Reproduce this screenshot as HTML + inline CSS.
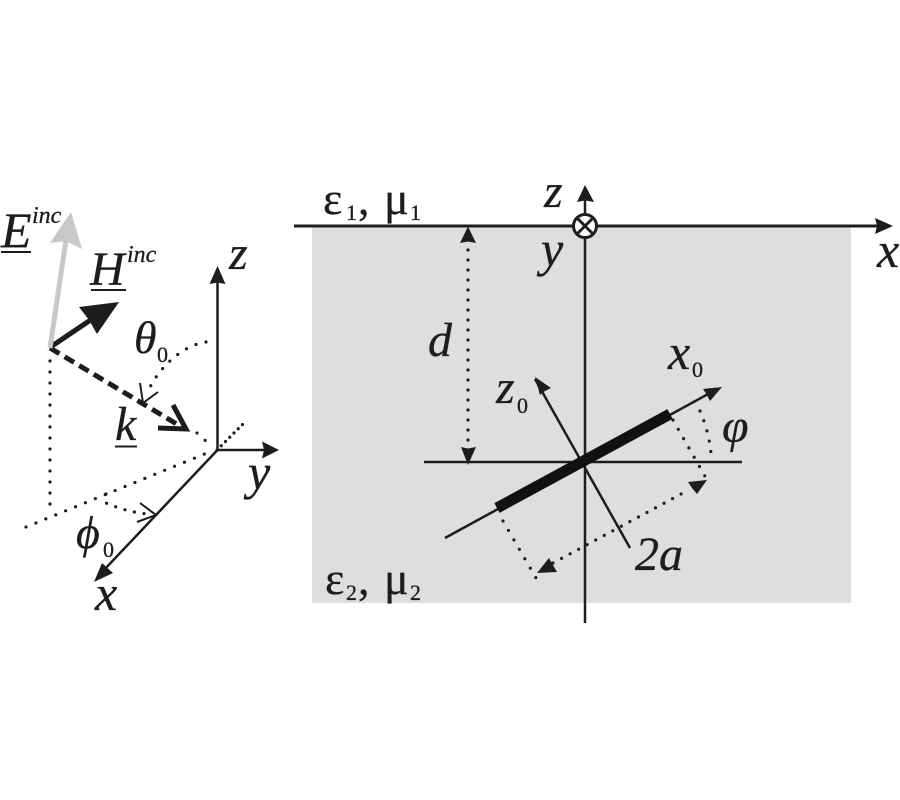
<!DOCTYPE html>
<html><head><meta charset="utf-8"><style>
html,body{margin:0;padding:0;background:#fff}
svg{display:block}
text{font-family:"Liberation Serif","DejaVu Serif",serif;fill:#1d1d1b;stroke:#1d1d1b;stroke-width:.3}
.i{font-style:italic}
</style></head><body>
<svg width="900" height="800" viewBox="0 0 900 800" xmlns="http://www.w3.org/2000/svg">
<rect width="900" height="800" fill="#fff"/>
<rect x="312" y="226" width="539" height="377" fill="#dedede"/>
<g stroke="#1d1d1b" fill="none" stroke-width="2.5">
<!-- left axes -->
<path d="M217.5 450V280M217.5 450H265M217.5 450L103 571"/>
<path d="M140 503L156 515L137 522" stroke-width="2"/>
<!-- right axes -->
<path d="M294 226H880" stroke-width="3"/>
<path d="M585 237V623M585 215V198M424 462H742M445 538L710 393M535 379L630 548"/>
<path d="M497 508L670 414" stroke-width="11" stroke="#111"/>
<circle cx="585" cy="226" r="11.5" fill="#fff" stroke-width="3"/>
<path d="M577 218L593 234M593 218L577 234" stroke-width="3"/>
<!-- k arrow -->
<path d="M50 348L180 426" stroke-width="5" stroke-dasharray="11 6"/>
<path d="M173 405L186 429L158 428" stroke-width="5"/>
<path d="M52 346L95 317" stroke-width="5"/>
<path d="M50 348L66 240" stroke="#c8c8c8" stroke-width="5"/>
<!-- theta small arrow -->
<path d="M140 383L143 403L158 392" stroke-width="2"/>
</g>
<g fill="#1d1d1b">
<path d="M217.500 266L225.500 284L217.500 282.500L209.500 284Z"/>
<path d="M279 450L262 441.500L264 450L262 458.500Z"/>
<path d="M94 582L102 563L108 568.500L113 573Z"/>
<path d="M893 226L875 218L877 226L875 234Z"/>
<path d="M585 185L594 202L585 200.500L577 202Z"/>
<path d="M468 226.500L476 243L468 241.500L460 243Z"/>
<path d="M468 465L461 447L468 448.500L476 447Z"/>
<path d="M722 387L703 389L707 395L710 401Z"/>
<path d="M535 377L551 388L545 391L540 395Z"/>
<path d="M537 573L549 558L553 565L557 572Z"/>
<path d="M707 480L688 482L692 488L697 494Z"/>
<path d="M119 302L79 307L89 320L97 334Z"/>
</g>
<path d="M71 212L50 243L66 241L82 249Z" fill="#c8c8c8"/>
<g stroke="#1d1d1b" fill="none" stroke-width="3.2" stroke-linecap="round" stroke-dasharray="0 11">
<path d="M50 361V512"/>
<path d="M26 527L207 453" stroke-dasharray="0 10.700"/>
<path d="M217 450L245 422" stroke-dasharray="0 6"/>
<path d="M197 433L208 443"/>
<path d="M206 342C190 344 165 358 149 389" stroke-dasharray="0 10.400"/>
<path d="M106 494V503C120 509 135 513 148 514" stroke-dasharray="0 9.700"/>
<path d="M468 240V446" stroke-dasharray="0 10"/>
<path d="M503 521L536 578" stroke-dasharray="0 10.900"/>
<path d="M673 420L706 478" stroke-dasharray="0 10.700"/>
<path d="M553 563L683 493" stroke-dasharray="0 9.700"/>
<path d="M700 411C706 425 710 440 711 454" stroke-dasharray="0 10.500"/>
</g>
<path d="M1 252H31M91 290H126M115 446.500H137" stroke="#1d1d1b" stroke-width="2" fill="none"/>

<text class="i" x="1" y="247" font-size="50">E</text>
<text class="i" x="32" y="223" font-size="24">inc</text>
<text class="i" x="90" y="285" font-size="48">H</text>
<text class="i" x="127" y="262" font-size="24">inc</text>
<text class="i" x="134" y="353" font-size="46">θ</text>
<text x="157" y="362" font-size="22">0</text>
<text class="i" x="115" y="440" font-size="48">k</text>
<text class="i" x="229" y="269" font-size="48">z</text>
<text class="i" x="248" y="489" font-size="50">y</text>
<text class="i" x="76" y="548" font-size="46">ϕ</text>
<text x="103" y="557" font-size="22">0</text>
<text class="i" x="95" y="610" font-size="50">x</text>

<text x="323" y="214" font-size="46">ε</text>
<text x="346" y="220" font-size="22">1</text>
<text x="358" y="214" font-size="46">,</text>
<text x="384" y="214" font-size="46">μ</text>
<text x="410" y="220" font-size="22">1</text>
<text class="i" x="544" y="207" font-size="48">z</text>
<text class="i" x="541" y="266" font-size="50">y</text>
<text class="i" x="877" y="267" font-size="50">x</text>
<text class="i" x="428" y="356" font-size="48">d</text>
<text class="i" x="668" y="369" font-size="50">x</text>
<text x="692" y="377" font-size="22">0</text>
<text class="i" x="496" y="403" font-size="48">z</text>
<text x="517" y="413" font-size="22">0</text>
<text class="i" x="722" y="442" font-size="48">φ</text>
<text class="i" x="635" y="570" font-size="48">2a</text>
<text x="325" y="594" font-size="46">ε</text>
<text x="346" y="600" font-size="22">2</text>
<text x="358" y="594" font-size="46">,</text>
<text x="384" y="594" font-size="46">μ</text>
<text x="410" y="600" font-size="22">2</text>
</svg>
</body></html>
